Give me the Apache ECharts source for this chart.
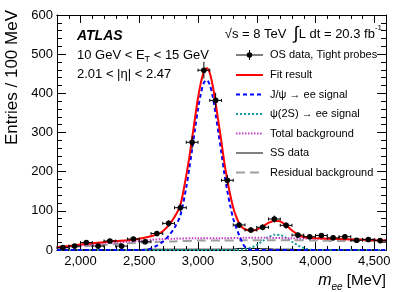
<!DOCTYPE html>
<html>
<head>
<meta charset="utf-8">
<script src="https://cdn.jsdelivr.net/npm/echarts@6/dist/echarts.min.js"></script>
<style>html,body{margin:0;padding:0;background:#fff}#c{width:407px;height:292px}</style>
</head>
<body>
<div id="c"></div>
<script>
// ---- data ----
const xMajorTicks = [2000, 2500, 3000, 3500, 4000, 4500];
const yTicks = [0, 100, 200, 300, 400, 500, 600];

const osMass   = [1850,1950,2050,2150,2250,2350,2450,2550,2650,2750,2850,2950,3050,3150,3250,3350,3450,3550,3650,3750,3850,3950,4050,4150,4250,4350,4450,4550];
const osValues = [6,10,19,10,23,10,28,21,42,68,108,275,459,382,178,64,51,58,79,63,38,34,37,31,34,25,27,24];
const osErrors = [2.4,3.2,4.4,3.2,4.8,3.2,5.3,4.6,6.5,8.2,10.4,16.6,21.4,19.5,13.3,8,7.1,7.6,8.9,7.9,6.2,5.8,6.1,5.6,5.8,5,5.2,4.9];

const fitMass   = [1800,1900,2000,2100,2200,2300,2400,2500,2600,2650,2700,2750,2800,2850,2900,2925,2950,2975,3000,3025,3050,3075,3100,3125,3150,3175,3200,3225,3250,3275,3300,3325,3350,3375,3400,3450,3500,3550,3600,3650,3700,3750,3800,3850,3900,3950,4000,4100,4200,4300,4400,4500,4600];
const fitValues = [7,10,14,17,20,23,25,29,35,40,48,63,84,115,190,235,285,338,388,428,455,464,452,420,375,325,275,222,178,140,108,85,68,58,53,49,52,60,69,75,73,63,50,39,33,31,30,29,28,27,26,25,24];

const jpsiMass   = [1800,2550,2600,2650,2700,2750,2800,2850,2900,2925,2950,2975,3000,3025,3050,3075,3100,3125,3150,3175,3200,3225,3250,3275,3300,3325,3350,3375,3400,3450,4600];
const jpsiValues = [0,0,4,11,21,36,57,88,160,207,257,310,360,400,427,434,422,392,347,297,247,194,150,112,80,57,38,20,8,0,0];

const psiMass   = [1800,3350,3400,3450,3500,3550,3600,3650,3700,3750,3800,3850,3900,3950,4000,4600];
const psiValues = [0,0,2,6,13,23,33,39,38,31,21,12,5,1,0,0];

const bkgMass   = [1800,1900,2000,2100,2200,2300,2400,2500,2600,2700,2800,3000,3200,3400,3600,3800,4000,4200,4400,4600];
const bkgValues = [5,8,11,14,17,19,21,23,26,28,29,30,30,31,31,30,29,28,27,25];

const residMass   = [1800,2000,2200,2400,2600,2800,3000,3200,3400,3600,3800,4000,4200,4400,4600];
const residValues = [4,9,13,17,20,22,24,24,25,25,25,24,23,23,22];

const ssMass   = osMass;
const ssValues = [1,1,1,1,1,1,1,2,2,2,2,2,2,2,2,4,4,3,2,2,1,1,1,1,1,1,1,1];

const legendLabels = ['OS data, Tight probes','Fit result','J/\u03c8 \u2192 ee signal','\u03c8(2S) \u2192 ee signal','Total background','SS data','Residual background'];

// ---- chart ----
const FONT = '"Liberation Sans", Arial, Helvetica, sans-serif';
const chart = echarts.init(document.getElementById('c'), null, {renderer: 'canvas'});
const pair = (xs, ys) => xs.map((x, i) => [x, ys[i]]);

const grid = {left: 57, right: 21, top: 15, bottom: 42, containLabel: false};
const axBase = {type: 'value', min: 1800, max: 4600, splitLine: {show: false},
  axisLine: {show: true, onZero: false, lineStyle: {color: '#000', width: 1}}};

function xAx(pos, major, labels) {
  const a = Object.assign({}, axBase, {position: pos});
  if (major) {
    a.axisTick = {show: true, inside: true, length: 8, customValues: xMajorTicks, lineStyle: {color: '#000'}};
    a.axisLabel = labels ? {show: true, customValues: xMajorTicks, color: '#000', fontSize: 13, fontFamily: FONT, margin: 5} : {show: false};
  } else {
    a.interval = 100;
    a.axisTick = {show: true, inside: true, length: 4, lineStyle: {color: '#000'}};
    a.axisLabel = {show: false};
  }
  return a;
}
function yAx(pos, labels) {
  return {type: 'value', min: 0, max: 600, interval: 100, position: pos, splitLine: {show: false},
    axisLine: {show: true, onZero: false, lineStyle: {color: '#000', width: 1}},
    axisTick: {show: true, inside: true, length: 9, lineStyle: {color: '#000'}},
    minorTick: {show: true, splitNumber: 5, length: 5, lineStyle: {color: '#000'}},
    axisLabel: labels ? {show: true, color: '#000', fontSize: 13, fontFamily: FONT, margin: 4} : {show: false}};
}

function lineSeries(name, data, color, type, width, z) {
  return {name, type: 'line', data, xAxisIndex: 0, yAxisIndex: 0, showSymbol: false, symbol: 'none',
    smooth: 0.3, z: z || 2, silent: true, animation: false,
    lineStyle: {color, width, type}};
}

const osData = osMass.map((m, i) => [m, osValues[i], osErrors[i]]);

// legend drawn as graphic
const legX0 = 236, legX1 = 263, legTX = 270;
const legY = [55, 75, 94.5, 114, 133.5, 153, 172.5];
const legStyles = [
  null,
  {stroke: '#ff0000', lineWidth: 2},
  {stroke: '#0000ff', lineWidth: 2, lineDash: [4, 3]},
  {stroke: '#179c9c', lineWidth: 2, lineDash: [2, 2]},
  {stroke: '#c63fc6', lineWidth: 2, lineDash: [1.5, 1.5]},
  {stroke: '#000', lineWidth: 1},
  {stroke: '#a0a0a0', lineWidth: 2, lineDash: [9, 5]}
];
const graphics = [];
legendLabels.forEach((t, i) => {
  const y = legY[i];
  if (i === 0) {
    graphics.push({type: 'line', shape: {x1: legX0, y1: y, x2: legX1, y2: y}, style: {stroke: '#000', lineWidth: 1}});
    graphics.push({type: 'line', shape: {x1: (legX0 + legX1) / 2, y1: y - 5, x2: (legX0 + legX1) / 2, y2: y + 5}, style: {stroke: '#000', lineWidth: 1}});
    graphics.push({type: 'circle', shape: {cx: (legX0 + legX1) / 2, cy: y, r: 2.8}, style: {fill: '#000'}});
  } else {
    graphics.push({type: 'line', shape: {x1: legX0, y1: y, x2: legX1, y2: y}, style: legStyles[i]});
  }
  graphics.push({type: 'text', x: legTX, y: y, style: {text: t, fill: '#000', fontSize: 11, fontFamily: FONT, verticalAlign: 'middle', align: 'left'}});
});
graphics.push({type: 'text', x: 77, y: 36, style: {text: 'ATLAS', fill: '#000', fontSize: 14, fontWeight: 'bold', fontStyle: 'italic', fontFamily: FONT, verticalAlign: 'middle'}});
graphics.push({type: 'text', x: 77, y: 55, style: {text: '10 GeV < E{sub|T} < 15 GeV', fill: '#000', fontSize: 13, fontFamily: FONT, verticalAlign: 'middle', lineHeight: 18,
  rich: {sub: {fontSize: 9, fontFamily: FONT, verticalAlign: 'bottom', lineHeight: 18}}}});
graphics.push({type: 'text', x: 77, y: 74, style: {text: '2.01 < |\u03b7| < 2.47', fill: '#000', fontSize: 13, fontFamily: FONT, verticalAlign: 'middle'}});
graphics.push({type: 'text', x: 382, y: 34, style: {text: '\u221as = 8 TeV  {int|\u222b}L dt = 20.3 fb{sup|-1}', fill: '#000', fontSize: 13, fontFamily: FONT, verticalAlign: 'middle', align: 'right', lineHeight: 20,
  rich: {int: {fontSize: 18, fontFamily: FONT, lineHeight: 20}, sup: {fontSize: 8, fontFamily: FONT, verticalAlign: 'top', lineHeight: 20}}}});
graphics.push({type: 'text', x: 12, y: 10, rotation: Math.PI / 2, style: {text: 'Entries / 100 MeV', fill: '#000', fontSize: 17, fontFamily: FONT, align: 'right', verticalAlign: 'middle'}});
graphics.push({type: 'text', x: 386, y: 281, style: {text: '{m|m}{sub|ee} [MeV]', fill: '#000', fontSize: 15, fontFamily: FONT, align: 'right', verticalAlign: 'middle', lineHeight: 22,
  rich: {m: {fontSize: 16, fontStyle: 'italic', fontFamily: FONT, lineHeight: 22}, sub: {fontSize: 10, fontStyle: 'italic', fontFamily: FONT, verticalAlign: 'bottom', lineHeight: 22}}}});

const option = {
  animation: false,
  backgroundColor: '#fff',
  grid,
  xAxis: [xAx('bottom', false), xAx('bottom', true, true), xAx('top', false), xAx('top', true, false)],
  yAxis: [yAx('left', true), yAx('right', false)],
  graphic: graphics,
  series: [
    {name: 'SS data', type: 'line', data: pair(ssMass, ssValues), step: 'middle', showSymbol: false, symbol: 'none', z: 2,
      lineStyle: {color: '#000', width: 1}},
    lineSeries('\u03c8(2S) \u2192 ee signal', pair(psiMass, psiValues), '#179c9c', [2, 2], 2, 3),
    lineSeries('Residual background', pair(residMass, residValues), '#a0a0a0', [9, 5], 2, 3),
    lineSeries('Total background', pair(bkgMass, bkgValues), '#c63fc6', [1.5, 1.5], 2, 4),
    lineSeries('J/\u03c8 \u2192 ee signal', pair(jpsiMass, jpsiValues), '#0000ff', [4, 3], 2, 5),
    lineSeries('Fit result', pair(fitMass, fitValues), '#ff0000', 'solid', 2, 6),
    {name: 'OS data, Tight probes', type: 'custom', data: osData, z: 10, xAxisIndex: 0, yAxisIndex: 0,
      renderItem: function (params, api) {
        const m = api.value(0), v = api.value(1), e = api.value(2);
        const p = api.coord([m, v]);
        const l = api.coord([m - 50, v]), r = api.coord([m + 50, v]);
        const t = api.coord([m, v + e]), b = api.coord([m, Math.max(0, v - e)]);
        const st = {stroke: '#000', lineWidth: 1};
        return {type: 'group', children: [
          {type: 'line', shape: {x1: l[0], y1: p[1], x2: r[0], y2: p[1]}, style: st},
          {type: 'line', shape: {x1: l[0], y1: p[1] - 1.5, x2: l[0], y2: p[1] + 1.5}, style: st},
          {type: 'line', shape: {x1: r[0], y1: p[1] - 1.5, x2: r[0], y2: p[1] + 1.5}, style: st},
          {type: 'line', shape: {x1: p[0], y1: t[1], x2: p[0], y2: b[1]}, style: st},
          {type: 'circle', shape: {cx: p[0], cy: p[1], r: 2.8}, style: {fill: '#000'}}
        ]};
      }}
  ]
};
chart.setOption(option);
</script>
</body>
</html>
